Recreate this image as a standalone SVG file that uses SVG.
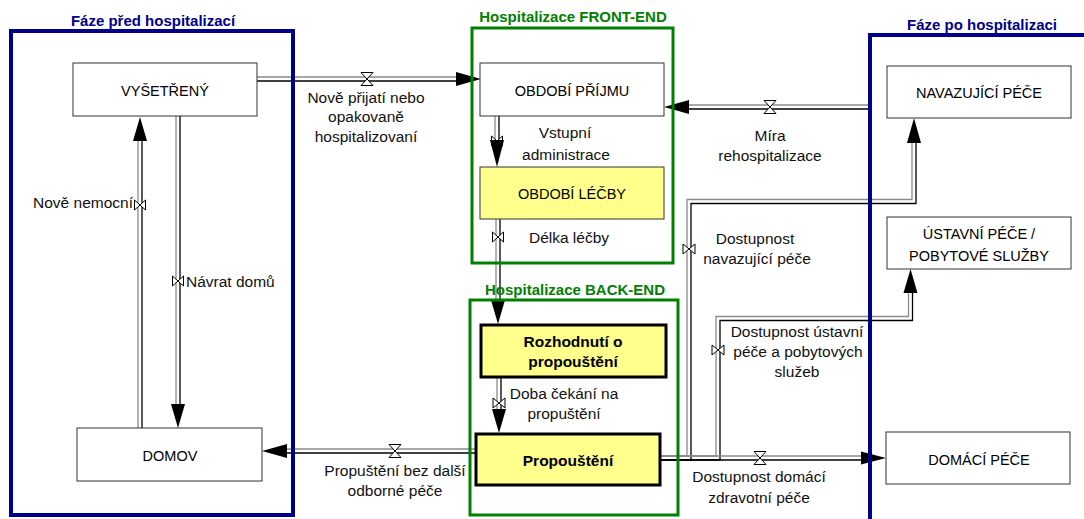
<svg xmlns="http://www.w3.org/2000/svg" width="1084" height="519" viewBox="0 0 1084 519">
<style>
text{font-family:"Liberation Sans",Arial,sans-serif;fill:#111}
.lbl{font-size:15.5px;text-anchor:middle}
.nt{font-size:14.5px;text-anchor:middle;fill:#000}
.bt{font-size:15.5px;font-weight:bold;text-anchor:middle;fill:#000}
.tb{font-size:15px;font-weight:bold;text-anchor:middle;fill:#00008B}
.tg{font-size:15px;font-weight:bold;text-anchor:middle;fill:#008000}
.pg{fill:none;stroke:#8a8a8a;stroke-width:1.3}
.pb{fill:none;stroke:#000;stroke-width:1.3}
.ah{fill:#000}
.v{fill:#fff;stroke:#000;stroke-width:1}
.blue{fill:none;stroke:#00008B;stroke-width:4}
.green{fill:none;stroke:#008000;stroke-width:3}
.node{fill:#fff;stroke:#333;stroke-width:1}
.ynode{fill:#FFFF8C;stroke:#333;stroke-width:1}
.bnode{fill:#FFFF8C;stroke:#000;stroke-width:3}
</style>
<rect width="1084" height="519" fill="#fff"/>
<g id="connectors">
  <!-- Nově přijatí -->
  <path class="pg" d="M257 77H457"/><path class="pb" d="M257 81H457"/>
  <path class="v" d="M361 72.5H373L361 85.5H373Z"/>
  <polygon class="ah" points="481,79 456,72 456,86"/>
  <!-- Míra rehospitalizace -->
  <path class="pg" d="M870 105H689"/><path class="pb" d="M870 109H689"/>
  <path class="v" d="M764 100.5H776L764 113.5H776Z"/>
  <polygon class="ah" points="664,107 689,100 689,114"/>
  <!-- Propuštění bez další -->
  <path class="pg" d="M475 449H287"/><path class="pb" d="M475 453H287"/>
  <path class="v" d="M389 444.5H401L389 457.5H401Z"/>
  <polygon class="ah" points="262,451 287,444 287,458"/>
  <!-- Nově nemocní -->
  <path class="pg" d="M138 428V141"/><path class="pb" d="M142 428V141"/>
  <path class="v" d="M134.5 200L145.5 210V200L134.5 210Z"/>
  <polygon class="ah" points="140,117 133,141 147,141"/>
  <!-- Návrat domů -->
  <path class="pg" d="M176 116V404"/><path class="pb" d="M180 116V404"/>
  <path class="v" d="M172.5 276L183.5 286V276L172.5 286Z"/>
  <polygon class="ah" points="178,428 171,404 185,404"/>
  <!-- Vstupní administrace -->
  <path class="pg" d="M495 116V141"/><path class="pb" d="M499 116V141"/>
  <path class="v" d="M491.5 136L502.5 146V136L491.5 146Z"/>
  <polygon class="ah" points="497,167 490,140 504,140"/>
  <!-- Délka léčby -->
  <path class="pg" d="M496 219V300"/><path class="pb" d="M500 219V300"/>
  <path class="v" d="M492.5 232L503.5 242V232L492.5 242Z"/>
  <polygon class="ah" points="498,324 491,300 505,300"/>
  <!-- Doba čekání -->
  <path class="pg" d="M497 378V409"/><path class="pb" d="M501 378V409"/>
  <path class="v" d="M493 398L505 408V398L493 408Z"/>
  <polygon class="ah" points="499,433 492,409 506,409"/>
  <!-- Dostupnost navazující péče -->
  <path class="pg" d="M661 456H687V199.5H912V143"/><path class="pb" d="M661 460H691V203.5H916V143"/>
  <path class="v" d="M683 244L695 254V244L683 254Z"/>
  <polygon class="ah" points="914,118 907,143 921,143"/>
  <!-- Dostupnost ústavní péče -->
  <path class="pg" d="M661 456H716V316.5H908.5V293"/><path class="pb" d="M661 460H720V320.5H912.5V293"/>
  <path class="v" d="M712 345L724 355V345L712 355Z"/>
  <polygon class="ah" points="910.5,269 903.5,293 917.5,293"/>
  <!-- Dostupnost domácí péče -->
  <path class="pg" d="M661 456H862"/><path class="pb" d="M661 460H862"/>
  <path class="v" d="M754 451.5H766L754 464.5H766Z"/>
  <polygon class="ah" points="886,458 861,451.5 861,464.5"/>
  <!-- labels -->
  <text class="lbl" x="366" y="103">Nově přijatí nebo</text>
  <text class="lbl" x="366" y="122">opakovaně</text>
  <text class="lbl" x="366" y="142">hospitalizovaní</text>
  <text class="lbl" x="565" y="138">Vstupní</text>
  <text class="lbl" x="566" y="160">administrace</text>
  <text class="lbl" x="569" y="243">Délka léčby</text>
  <text class="lbl" x="770" y="141">Míra</text>
  <text class="lbl" x="770" y="161">rehospitalizace</text>
  <text class="lbl" x="755" y="244">Dostupnost</text>
  <text class="lbl" x="757" y="264">navazující péče</text>
  <text class="lbl" x="797" y="337">Dostupnost ústavní</text>
  <text class="lbl" x="798" y="357">péče a pobytových</text>
  <text class="lbl" x="797" y="377">služeb</text>
  <text class="lbl" x="564" y="399">Doba čekání na</text>
  <text class="lbl" x="564" y="419">propuštění</text>
  <text class="lbl" x="395" y="476">Propuštění bez další</text>
  <text class="lbl" x="395" y="496">odborné péče</text>
  <text class="lbl" x="759" y="482">Dostupnost domácí</text>
  <text class="lbl" x="759" y="503">zdravotní péče</text>
  <text class="lbl" x="133" y="208" style="text-anchor:end">Nově nemocní</text>
  <text class="lbl" x="186" y="287" style="text-anchor:start">Návrat domů</text>
</g>
<g id="phase-pre">
  <rect class="blue" x="11" y="31" width="282" height="484"/>
  <text class="tb" x="153" y="26">Fáze před hospitalizací</text>
</g>
<g id="front-end">
  <rect class="green" x="472" y="28" width="201" height="235"/>
  <text class="tg" x="573" y="22">Hospitalizace FRONT-END</text>
</g>
<g id="back-end">
  <rect class="green" x="470" y="300" width="208" height="215"/>
  <text class="tg" x="575" y="295">Hospitalizace BACK-END</text>
</g>
<g id="phase-post">
  <rect class="blue" x="870" y="35" width="230" height="500"/>
  <text class="tb" x="982" y="30">Fáze po hospitalizaci</text>
</g>
<g id="vysetreny">
  <rect class="node" x="73" y="63" width="184" height="53"/>
  <text class="nt" x="165" y="96">VYŠETŘENÝ</text>
</g>
<g id="domov">
  <rect class="node" x="77" y="428" width="185" height="53"/>
  <text class="nt" x="170" y="461">DOMOV</text>
</g>
<g id="obdobi-prijmu">
  <rect class="node" x="480" y="63" width="184" height="53"/>
  <text class="nt" x="572" y="96">OBDOBÍ PŘÍJMU</text>
</g>
<g id="obdobi-lecby">
  <rect class="ynode" x="480" y="167" width="184" height="52"/>
  <text class="nt" x="572" y="199">OBDOBÍ LÉČBY</text>
</g>
<g id="rozhodnuti">
  <rect class="bnode" x="481" y="325" width="185" height="52"/>
  <text class="bt" x="573" y="347">Rozhodnutí o</text>
  <text class="bt" x="573" y="367">propouštění</text>
</g>
<g id="propousteni">
  <rect class="bnode" x="476" y="434" width="184" height="51"/>
  <text class="bt" x="568" y="466">Propouštění</text>
</g>
<g id="navazujici-pece">
  <rect class="node" x="887" y="66" width="184" height="52"/>
  <text class="nt" x="979" y="98">NAVAZUJÍCÍ PÉČE</text>
</g>
<g id="ustavni-pece">
  <rect class="node" x="887" y="217" width="184" height="52"/>
  <text class="nt" x="979" y="239">ÚSTAVNÍ PÉČE /</text>
  <text class="nt" x="979" y="261">POBYTOVÉ SLUŽBY</text>
</g>
<g id="domaci-pece">
  <rect class="node" x="886" y="432" width="184" height="52"/>
  <text class="nt" x="979" y="465">DOMÁCÍ PÉČE</text>
</g>
</svg>
